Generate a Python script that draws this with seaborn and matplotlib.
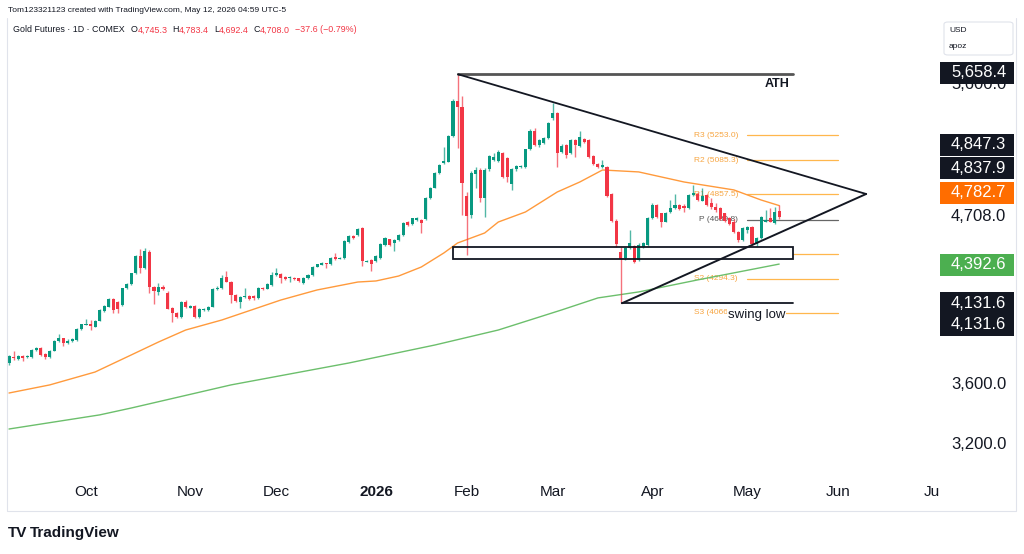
import numpy as np
import pandas as pd
import matplotlib
matplotlib.use("Agg")
import matplotlib.pyplot as plt
import matplotlib.transforms as mtransforms
from matplotlib.patches import Rectangle, FancyBboxPatch
from matplotlib.lines import Line2D
import seaborn as sns

# Gold Futures, COMEX, daily bars 2025-09-08 .. 2026-05-12
opens = [3731, 3776, 3758, 3778, 3771, 3771, 3820, 3831, 3793, 3771,
    3816, 3880, 3898, 3865, 3880, 3887, 3962, 3987, 3993, 3976,
    4016, 4080, 4109, 4162, 4138, 4120, 4231, 4258, 4331, 4449,
    4369, 4476, 4238, 4209, 4242, 4202, 4100, 4065, 4038, 4142,
    4102, 4113, 4038, 4087, 4087, 4109, 4224, 4231, 4304, 4276,
    4187, 4142, 4171, 4180, 4180, 4164, 4235, 4229, 4253, 4320,
    4327, 4309, 4298, 4300, 4298, 4269, 4298, 4320, 4375, 4389,
    4398, 4393, 4438, 4429, 4431, 4542, 4580, 4586, 4635, 4409,
    4420, 4413, 4431, 4520, 4558, 4531, 4553, 4586, 4675, 4660,
    4686, 4686, 4691, 4831, 4902, 4997, 5064, 5075, 5246, 5482,
    5442, 4846, 4720, 4991, 5020, 4831, 5024, 5086, 5080, 5135,
    5098, 4926, 5024, 5037, 5037, 5157, 5282, 5186, 5202, 5231,
    5364, 5397, 5142, 5186, 5131, 5220, 5180, 5226, 5220, 5113,
    5060, 5042, 5037, 4860, 4682, 4475, 4431, 4498, 4513, 4420,
    4509, 4520, 4698, 4787, 4730, 4676, 4742, 4764, 4787, 4780,
    4764, 4853, 4860, 4815, 4850, 4800, 4775, 4765, 4730, 4700,
    4676, 4609, 4553, 4620, 4638, 4527, 4565, 4676, 4698, 4665,
    4745.3]
highs = [3787, 3816, 3785, 3787, 3784, 3825, 3838, 3842, 3798, 3820,
    3885, 3925, 3902, 3890, 3898, 3967, 3996, 4025, 4020, 4022,
    4092, 4120, 4167, 4167, 4145, 4236, 4265, 4336, 4455, 4491,
    4498, 4485, 4245, 4269, 4250, 4210, 4105, 4070, 4147, 4150,
    4118, 4118, 4102, 4100, 4115, 4230, 4245, 4320, 4349, 4280,
    4192, 4178, 4231, 4185, 4186, 4242, 4240, 4265, 4342, 4364,
    4333, 4315, 4311, 4305, 4302, 4308, 4326, 4380, 4396, 4404,
    4402, 4440, 4469, 4440, 4551, 4585, 4585, 4630, 4640, 4420,
    4425, 4452, 4530, 4575, 4563, 4558, 4592, 4675, 4680, 4702,
    4708, 4690, 4840, 4908, 5008, 5058, 5175, 5250, 5490, 5658.4,
    5510, 4870, 5010, 5042, 5030, 5030, 5120, 5130, 5155, 5140,
    5105, 5030, 5055, 5055, 5162, 5290, 5300, 5228, 5242, 5338,
    5467, 5405, 5190, 5192, 5228, 5225, 5280, 5235, 5228, 5120,
    5068, 5086, 5045, 4868, 4690, 4509, 4505, 4620, 4520, 4530,
    4540, 4705, 4800, 4795, 4735, 4738, 4820, 4860, 4795, 4790,
    4860, 4920, 4870, 4900, 4860, 4830, 4800, 4770, 4735, 4705,
    4690, 4615, 4640, 4645, 4645, 4570, 4715, 4754, 4765, 4775,
    4783.4]
lows = [3720, 3753, 3750, 3749, 3767, 3766, 3815, 3780, 3762, 3764,
    3812, 3876, 3847, 3858, 3876, 3882, 3956, 3985, 3953, 3970,
    4012, 4075, 4105, 4065, 4065, 4115, 4225, 4253, 4325, 4331,
    4360, 4198, 4127, 4187, 4220, 4090, 4009, 4030, 4033, 4100,
    4098, 4033, 4030, 4080, 4080, 4104, 4220, 4225, 4270, 4136,
    4140, 4102, 4165, 4150, 4155, 4158, 4218, 4224, 4248, 4316,
    4264, 4285, 4275, 4285, 4275, 4262, 4292, 4315, 4370, 4385,
    4364, 4388, 4420, 4424, 4426, 4536, 4562, 4580, 4382, 4404,
    4349, 4408, 4426, 4515, 4515, 4482, 4548, 4580, 4648, 4655,
    4682, 4602, 4685, 4826, 4897, 4992, 5058, 5070, 5240, 5164,
    4720, 4453, 4700, 4898, 4809, 4709, 5015, 5080, 5070, 4964,
    4942, 4886, 5015, 5030, 5030, 5150, 5180, 5170, 5195, 5225,
    5355, 5042, 5130, 5098, 5125, 5109, 5175, 5200, 5100, 5050,
    5035, 5035, 4840, 4675, 4509, 4131.6, 4420, 4490, 4400, 4410,
    4500, 4515, 4690, 4700, 4640, 4670, 4736, 4758, 4750, 4740,
    4758, 4845, 4810, 4810, 4780, 4760, 4740, 4685, 4670, 4650,
    4600, 4540, 4548, 4600, 4520, 4515, 4560, 4670, 4670, 4660,
    4692.4]
closes = [3780, 3768, 3780, 3767, 3780, 3820, 3831, 3787, 3771, 3816,
    3880, 3898, 3865, 3882, 3891, 3962, 3991, 3993, 3980, 4016,
    4087, 4113, 4160, 4087, 4091, 4231, 4260, 4331, 4449, 4369,
    4480, 4238, 4216, 4242, 4227, 4096, 4065, 4038, 4142, 4109,
    4113, 4038, 4096, 4096, 4109, 4224, 4236, 4298, 4276, 4187,
    4149, 4171, 4180, 4160, 4164, 4235, 4224, 4260, 4320, 4331,
    4298, 4293, 4304, 4291, 4282, 4302, 4320, 4375, 4391, 4398,
    4391, 4435, 4424, 4435, 4546, 4580, 4569, 4624, 4413, 4415,
    4391, 4446, 4524, 4569, 4520, 4553, 4586, 4669, 4653, 4697,
    4697, 4669, 4835, 4902, 5002, 5053, 5080, 5246, 5482, 5442,
    4931, 4713, 4998, 5020, 4831, 5020, 5113, 5109, 5142, 4971,
    4975, 5024, 5046, 5046, 5157, 5282, 5186, 5220, 5235, 5331,
    5397, 5131, 5180, 5120, 5220, 5186, 5242, 5209, 5109, 5060,
    5042, 5053, 4846, 4682, 4527, 4424, 4498, 4535, 4409, 4520,
    4531, 4698, 4787, 4709, 4676, 4731, 4764, 4787, 4760, 4764,
    4853, 4864, 4820, 4845, 4787, 4770, 4753, 4690, 4680, 4660,
    4609, 4553, 4631, 4638, 4527, 4564, 4709, 4687, 4676, 4743,
    4708.0]

# exchange holidays (no daily bar)
holidays = ["2025-11-27", "2025-12-25", "2026-01-01", "2026-01-19",
    "2026-02-16", "2026-04-03", "2026-05-25", "2026-06-19"]

# moving averages (bar index, price)
ema50_bar = [0, 9, 19, 27, 33, 39, 47, 60, 68, 77, 81, 86, 91, 96, 99,
    105, 108, 114, 121, 126, 131, 139, 149, 160, 166, 170]
ema50_val = [3533, 3587, 3673, 3787, 3873, 3953, 4020, 4153, 4220, 4273,
    4280, 4313, 4373, 4467, 4533, 4600, 4673, 4740, 4873, 4940, 5020,
    5007, 4940, 4887, 4820, 4782.7]
ema200_bar = [0, 20, 27, 49, 75, 94, 108, 122, 130, 139, 152, 170]
ema200_val = [3293, 3387, 3433, 3587, 3733, 3853, 3953, 4087, 4167, 4207,
    4287, 4392.6]

# classic pivots
pivot_names = ["R3", "R2", "R1", "P", "S1", "S2", "S3"]
pivot_vals = [5253.0, 5085.3, 4857.5, 4689.8, 4462.0, 4294.3, 4066.5]

# hand drawings: ATH, swing low, triangle apex, support zone
ath_price = 5658.4
swing_low = 4131.6
apex_price = 4860.0
zone = [4427, 4507]

price_ticks = [3200, 3600, 4000, 4400, 5200, 5600]
axis_labels = ["5,658.4", "4,847.3", "4,837.9", "4,782.7", "4,392.6", "4,131.6", "4,131.6"]
axis_label_y = [5667, 5187, 5033, 4867, 4387, 4133, 3987]
axis_label_bg = ["#131722", "#131722", "#131722", "#ff6d00", "#4caf50", "#131722", "#131722"]

UP = "#089981"
DOWN = "#f23645"
INK = "#131722"
PIV = "#f7a541"

sns.set_theme(style="white")
plt.rcParams["font.family"] = ["Liberation Sans", "DejaVu Sans"]

fig = plt.figure(figsize=(10.24, 5.54), dpi=100)
fig.patch.set_facecolor("white")
ax = fig.add_axes([7 / 1024, 80 / 554, 933 / 1024, 454 / 554])
ax.set_facecolor("white")

o = np.array(opens)
h = np.array(highs)
l = np.array(lows)
c = np.array(closes)
bars = np.arange(len(c))
col = np.where(c >= o, UP, DOWN)

ax.vlines(bars, l, h, colors=col, lw=1.0, alpha=0.7, zorder=4)
ax.bar(bars, np.maximum(np.abs(c - o), 6), bottom=np.minimum(o, c),
    width=0.68, color=col, linewidth=0, zorder=4.2)

sns.lineplot(x=ema50_bar, y=ema50_val, color="#ff9a3c", lw=1.0, ax=ax, zorder=3.5)
sns.lineplot(x=ema200_bar, y=ema200_val, color="#6cbf6c", lw=1.0, ax=ax, zorder=3.5)

# pivot levels
for name, val in zip(pivot_names, pivot_vals):
    lc = "#666666" if name == "P" else "#ffb74d"
    tc = "#555555" if name == "P" else PIV
    ax.plot([162.9, 183], [val, val], color=lc, lw=0.9, zorder=2)
    ax.text(160.9, val, f"{name} ({val:.1f})", ha="right", va="center",
        fontsize=6, color=tc, zorder=2)

# support zone (white fill hides what is behind it)
ax.add_patch(Rectangle((98.0, zone[0]), 75.1, zone[1] - zone[0],
    facecolor="white", edgecolor="none", zorder=3))
ax.add_patch(Rectangle((98.0, zone[0]), 75.1, zone[1] - zone[0],
    facecolor="none", edgecolor=INK, lw=1.3, zorder=5))

# ATH line, triangle, swing low
ax.plot([99.1, 173.1], [ath_price, ath_price], color="#555555", lw=2.0, zorder=5)
ax.plot([99.1, 189.2], [ath_price, apex_price], color=INK, lw=1.3, zorder=5)
ax.plot([135.3, 189.2], [swing_low, apex_price], color=INK, lw=1.4, zorder=5)
ax.plot([135.3, 173.1], [swing_low, swing_low], color=INK, lw=1.3, zorder=5)
ax.text(169.5, 5593, "ATH", ha="center", va="center", fontsize=9,
    fontweight="bold", color=INK, zorder=6)
ax.text(165.0, 4053, "swing low", ha="center", va="center", fontsize=9.5,
    color=INK, zorder=6,
    bbox=dict(facecolor="white", edgecolor="none", pad=0.3))

ax.set_xlim(-0.44, 205.5)
ax.set_ylim(2993, 6020)
for s in ax.spines.values():
    s.set_visible(False)

# price scale
ax.yaxis.tick_right()
ax.set_yticks(price_ticks)
ax.set_yticklabels([f"{v:,.1f}" for v in price_ticks])
ax.tick_params(axis="y", length=0, pad=8, labelsize=12, labelcolor=INK)
bt = mtransforms.blended_transform_factory(ax.transAxes, ax.transData)
box_h = 22 * (6020 - 2993) / 454
for txt, yv, bg in zip(axis_labels, axis_label_y, axis_label_bg):
    ax.add_patch(Rectangle((1.0, yv - box_h / 2), 74 / 933, box_h, transform=bt,
        facecolor=bg, edgecolor="none", clip_on=False, zorder=10))
    ax.text(1.0118, yv, txt, transform=bt, ha="left", va="center", fontsize=12,
        color="white", clip_on=False, zorder=11)
ax.text(1.0118, 4713, "4,708.0", transform=bt, ha="left", va="center",
    fontsize=12, color=INK, zorder=11,
    bbox=dict(facecolor="white", edgecolor="none", pad=1))

# time scale
trading = pd.bdate_range("2025-09-08", "2026-07-31")
trading = trading[~trading.isin(pd.to_datetime(holidays))]
ax.set_xticks([])
clip = mtransforms.TransformedBbox(mtransforms.Bbox.from_extents(0, -0.2, 1, 0), ax.transAxes)
xt = mtransforms.blended_transform_factory(ax.transData, ax.transAxes)
for i in range(1, len(trading)):
    if trading[i].month != trading[i - 1].month and i < 206:
        bold = trading[i].month == 1
        lab = str(trading[i].year) if bold else trading[i].strftime("%b")
        t = ax.text(i, -18 / 454, lab, transform=xt, ha="center", va="center",
            fontsize=11, color=INK, fontweight="bold" if bold else "normal",
            clip_on=True)
        t.set_clip_box(clip)

# header
fig.text(8 / 1024, 1 - 10 / 554, "Tom123321123 created with TradingView.com, May 12, 2026 04:59 UTC-5",
    fontsize=6, color=INK, va="center")
prev = fig.text(13 / 1024, 1 - 30 / 554, "Gold Futures · 1D · COMEX", fontsize=6.4,
    color=INK, va="center")
pieces = [("O", INK, 4.5), ("4,745.3", DOWN, 0), ("H", INK, 3.5), ("4,783.4", DOWN, 0),
    ("L", INK, 3.5), ("4,692.4", DOWN, 0), ("C", INK, 3.5), ("4,708.0", DOWN, 0),
    ("−37.6 (−0.79%)", DOWN, 3.5)]
for s, cc, gap in pieces:
    prev = ax.annotate(s, xy=(1, 0.5), xycoords=prev, xytext=(gap, 0),
        textcoords="offset points", ha="left", va="center", fontsize=6.4,
        color=cc, annotation_clip=False)

# currency box
fig.add_artist(FancyBboxPatch((944 / 1024, 1 - 55 / 554), 69 / 1024, 33 / 554,
    boxstyle="round,pad=0,rounding_size=0.004", transform=fig.transFigure,
    facecolor="white", edgecolor="#e0e3eb", lw=0.8))
fig.text(949 / 1024, 1 - 30 / 554, "USD", fontsize=6, color=INK, va="center")
fig.text(949 / 1024, 1 - 47 / 554, "apoz", fontsize=6, color=INK, va="center")

# outer frame: left, bottom, right only
fx = [7 / 1024, 7 / 1024, 1016 / 1024, 1016 / 1024]
fy = [1 - 18 / 554, 1 - 511 / 554, 1 - 511 / 554, 1 - 18 / 554]
fig.add_artist(Line2D(fx, fy, transform=fig.transFigure, color="#e0e3eb", lw=0.8))

# logo
fig.text(8 / 1024, 1 - 533 / 554, "TV", fontsize=11, fontweight="heavy", color=INK, va="center")
fig.text(30 / 1024, 1 - 533 / 554, "TradingView", fontsize=11, fontweight="bold",
    color=INK, va="center")

fig.savefig("out.png", dpi=100, facecolor="white")
